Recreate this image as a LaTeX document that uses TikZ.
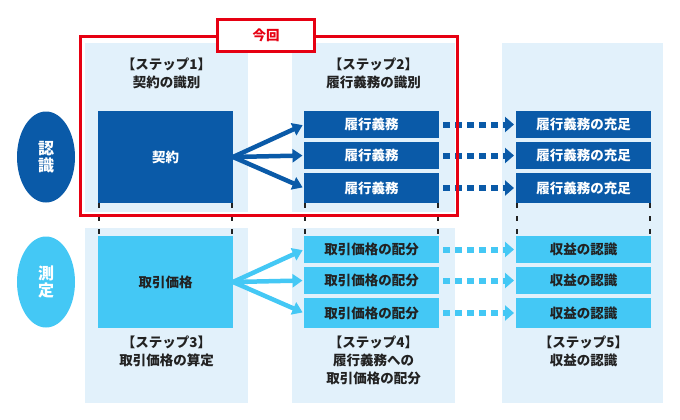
\documentclass[tikz,border=0pt]{standalone}
\usepackage{fontspec}
\setmainfont{Noto Sans CJK JP}
\usetikzlibrary{arrows.meta,shapes.geometric}
\definecolor{dblue}{HTML}{0A5AA8}
\definecolor{lblue}{HTML}{44C8F5}
\definecolor{panelc}{HTML}{E2F1FB}
\definecolor{redc}{HTML}{E60012}
\definecolor{txt}{HTML}{222222}
\tikzset{
  basefont/.style={font=\bfseries\fontsize{13.5}{18}\selectfont},
  panelbox/.style={fill=panelc, draw=none, inner sep=0pt, outer sep=0pt, anchor=north west, minimum width=163pt},
  darkbox/.style={fill=dblue, draw=none, text=white, inner sep=0pt, outer sep=0pt, anchor=north west, minimum width=135pt},
  lightbox/.style={fill=lblue, draw=none, text=txt, inner sep=0pt, outer sep=0pt, anchor=north west, minimum width=135pt},
  steplabel/.style={text=txt, align=center, inner sep=0pt},
  vguide/.style={draw=txt, line width=2pt, dash pattern=on 5pt off 8pt},
  thickarrow/.style={line width=4.5pt, -{Triangle[length=10pt,width=13pt]}, shorten >=1.5pt},
  dotarrow/.style={line width=6pt, dash pattern=on 7pt off 5pt, -{Triangle[length=9pt,width=15pt]}, shorten <=4pt, shorten >=2pt},
  sidelabel/.style={ellipse, minimum width=58pt, minimum height=91pt, inner sep=0pt, text=white, align=center, font=\bfseries\fontsize{16}{17}\selectfont},
}
\begin{document}
\begin{tikzpicture}[x=1pt, y=-1pt, basefont]
\useasboundingbox (0,0) rectangle (680,420);
% panels
\node[panelbox, minimum height=169pt] (p1t) at (85,43) {};
\node[panelbox, minimum height=175pt] (p1b) at (85,228) {};
\node[panelbox, minimum height=169pt] (p2t) at (292,43) {};
\node[panelbox, minimum height=175pt] (p2b) at (292,228) {};
\node[panelbox, minimum width=161pt, minimum height=360pt] (p3) at (502,43) {};
% step labels
\node[steplabel] (l1) at (166.5,73) {【ステップ1】\\契約の識別};
\node[steplabel] (l2) at (373.5,73) {【ステップ2】\\履行義務の識別};
\node[steplabel] (l3) at (166.5,351.5) {【ステップ3】\\取引価格の算定};
\node[steplabel] (l4) at (373.5,360.5) {【ステップ4】\\履行義務への\\取引価格の配分};
\node[steplabel] (l5) at (583.5,351.5) {【ステップ5】\\収益の認識};
% side labels
\node[sidelabel, fill=dblue] (e1) at (46,157) {認\\識};
\node[sidelabel, fill=lblue] (e2) at (46,282) {測\\定};
% column 1
\node[darkbox, minimum height=92pt] (k) at (98,111) {契約};
\node[lightbox, minimum height=92pt] (t) at (98,236) {取引価格};
% column 2
\node[darkbox, minimum height=27pt] (o1) at (304,111) {履行義務};
\node[darkbox, minimum height=27pt] (o2) at (304,142) {履行義務};
\node[darkbox, minimum height=30pt] (o3) at (304,173) {履行義務};
\node[lightbox, minimum height=27pt] (a1) at (304,236) {取引価格の配分};
\node[lightbox, minimum height=27pt] (a2) at (304,267) {取引価格の配分};
\node[lightbox, minimum height=30pt] (a3) at (304,298) {取引価格の配分};
% column 3
\node[darkbox, minimum height=27pt] (s1) at (516,111) {履行義務の充足};
\node[darkbox, minimum height=27pt] (s2) at (516,142) {履行義務の充足};
\node[darkbox, minimum height=30pt] (s3) at (516,173) {履行義務の充足};
\node[lightbox, minimum height=27pt] (r1) at (516,236) {収益の認識};
\node[lightbox, minimum height=27pt] (r2) at (516,267) {収益の認識};
\node[lightbox, minimum height=30pt] (r3) at (516,298) {収益の認識};
% vertical guides
\draw[vguide] ([xshift=1pt]k.south west) -- ([xshift=1pt]t.north west);
\draw[vguide] ([xshift=-1pt]k.south east) -- ([xshift=-1pt]t.north east);
\draw[vguide] ([xshift=1pt]o3.south west) -- ([xshift=1pt]a1.north west);
\draw[vguide] ([xshift=-1pt]o3.south east) -- ([xshift=-1pt]a1.north east);
\draw[vguide] ([xshift=1pt]s3.south west) -- ([xshift=1pt]r1.north west);
\draw[vguide] ([xshift=-1pt]s3.south east) -- ([xshift=-1pt]r1.north east);
% arrows
\draw[thickarrow, dblue] (k.east) -- (o1.west);
\draw[thickarrow, dblue] (k.east) -- (o2.west);
\draw[thickarrow, dblue] (k.east) -- (o3.west);
\draw[thickarrow, lblue] (t.east) -- (a1.west);
\draw[thickarrow, lblue] (t.east) -- (a2.west);
\draw[thickarrow, lblue] (t.east) -- (a3.west);
\draw[dotarrow, dblue] (o1.east) -- (s1.west);
\draw[dotarrow, dblue] (o2.east) -- (s2.west);
\draw[dotarrow, dblue] (o3.east) -- (s3.west);
\draw[dotarrow, lblue] (a1.east) -- (r1.west);
\draw[dotarrow, lblue] (a2.east) -- (r2.west);
\draw[dotarrow, lblue] (a3.east) -- (r3.west);
% current frame
\node[draw=redc, line width=3pt, inner sep=0pt, outer sep=0pt, anchor=north west, minimum width=376.5pt, minimum height=178.5pt] (frame) at (80.5,37) {};
\node[draw=redc, fill=white, line width=3pt, text=redc, inner sep=0pt, minimum width=97pt, minimum height=32pt] (now) at (266,35.5) {今回};
\end{tikzpicture}
\end{document}
